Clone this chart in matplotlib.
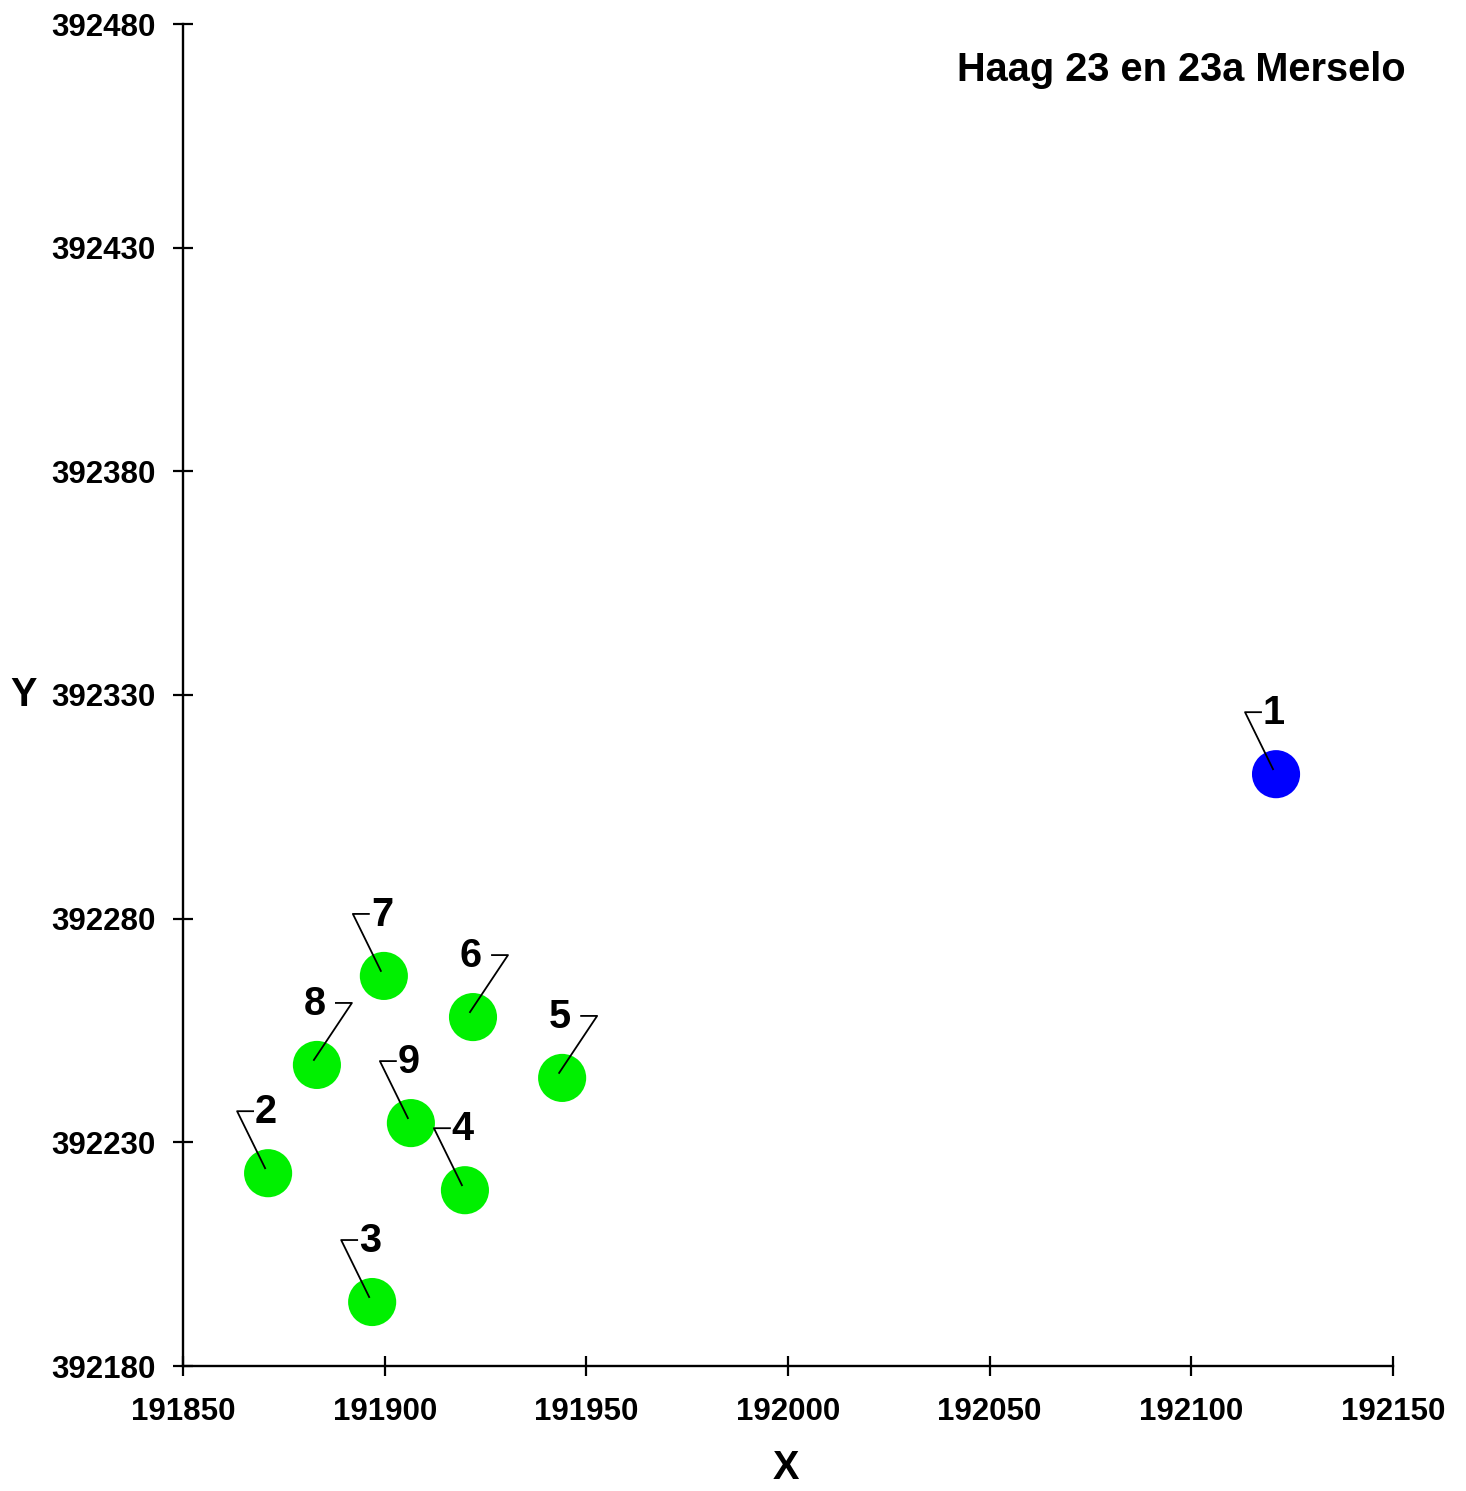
import matplotlib
matplotlib.use("Agg")
import matplotlib.pyplot as plt
from matplotlib.lines import Line2D
from matplotlib.transforms import IdentityTransform

plt.rcParams['font.family'] = ['Liberation Sans', 'DejaVu Sans']
plt.rcParams['font.weight'] = 'bold'

# data
labels = ['1', '2', '3', '4', '5', '6', '7', '8', '9']
xs = [192121.0, 191871.1, 191896.9, 191919.9, 191944.0, 191921.9, 191899.8, 191883.2, 191906.5]
ys = [392312.3, 392223.1, 392194.3, 392219.3, 392244.4, 392258.0, 392267.2, 392247.3, 392234.3]
colors = ['#0000ff', '#00f000', '#00f000', '#00f000', '#00f000', '#00f000', '#00f000', '#00f000', '#00f000']
sides = ['left', 'left', 'left', 'left', 'right', 'right', 'left', 'right', 'left']
xticks = [191850, 191900, 191950, 192000, 192050, 192100, 192150]
yticks = [392180, 392230, 392280, 392330, 392380, 392430, 392480]
title = 'Haag 23 en 23a Merselo'

W, H, DPI = 1466, 1491, 100
fig = plt.figure(figsize=(W / DPI, H / DPI), dpi=DPI)
ax = fig.add_axes([183 / W, (H - 1366) / H, 1210 / W, 1342 / H])
ax.set_xlim(xticks[0], xticks[-1])
ax.set_ylim(yticks[0], yticks[-1])
ax.set_xticks(xticks)
ax.set_yticks(yticks)
ax.set_xticklabels([str(t) for t in xticks], fontsize=22.5, fontweight='bold')
ax.set_yticklabels([str(t) for t in yticks], fontsize=22.5, fontweight='bold')
for s in ['top', 'right']:
    ax.spines[s].set_visible(False)
for s in ['left', 'bottom']:
    ax.spines[s].set_linewidth(1.7)
ax.tick_params(axis='both', direction='inout', length=15, width=1.6, pad=12)
ax.tick_params(axis='x', pad=15)

ax.scatter(xs, ys, s=1200, c=colors, edgecolors='none', zorder=3)

# leader lines and labels (pixel offsets)
for lab, x, y, side in zip(labels, xs, ys, sides):
    px, py = ax.transData.transform((x, y))
    if side == 'left':
        cx, hx = -31, -15
    else:
        cx, hx = 35, 19
    cy = 62
    line = Line2D([px - 3, px + cx, px + hx], [py + 5, py + cy, py + cy],
                  transform=IdentityTransform(), color='black', lw=1.3, zorder=4)
    fig.add_artist(line)
    ax.annotate(lab, xy=(x, y), xytext=(-2, 61), textcoords='offset pixels',
                ha='center', va='center', fontsize=28.5, fontweight='bold', zorder=5)

ax.text(1.0107, 0.9655, title, transform=ax.transAxes, ha='right', va='center',
        fontsize=28.6, fontweight='bold')
ax.text(0.498, -0.076, 'X', transform=ax.transAxes, ha='center', va='center',
        fontsize=28.5, fontweight='bold')
ax.text(-0.132, 0.5, 'Y', transform=ax.transAxes, ha='center', va='center',
        fontsize=28.5, fontweight='bold')

fig.savefig('out.png', dpi=DPI)
